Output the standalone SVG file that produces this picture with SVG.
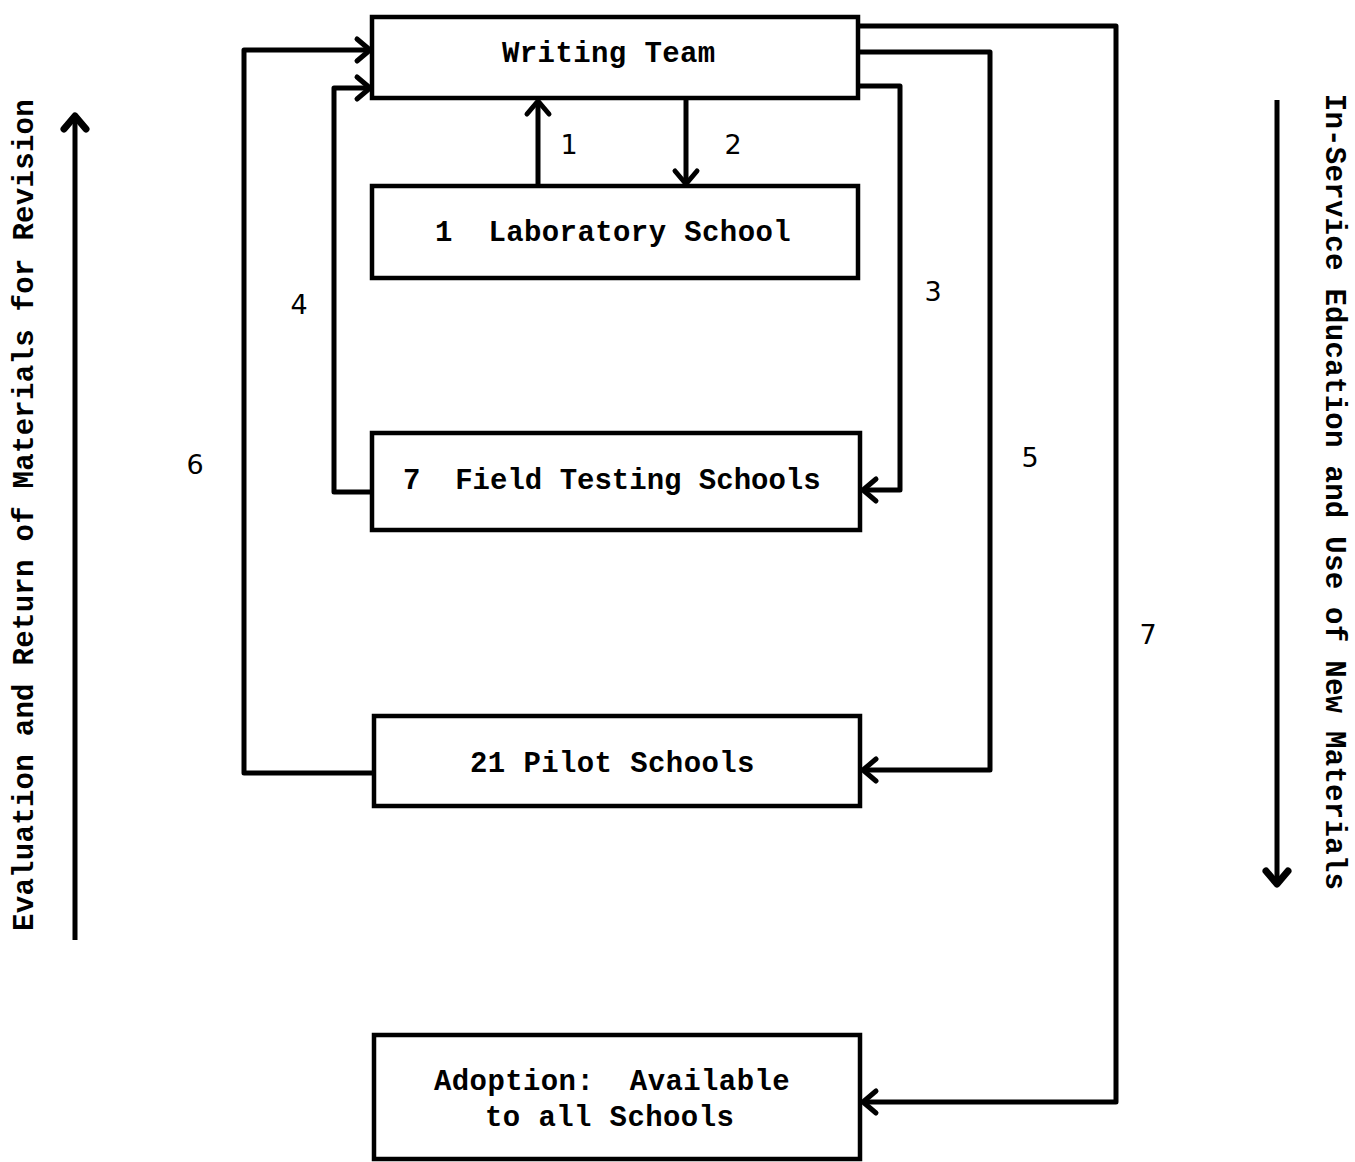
<svg xmlns="http://www.w3.org/2000/svg" width="1355" height="1162" viewBox="0 0 1355 1162">
<style>
.box{fill:#fff;stroke:#000;stroke-width:4.5}
.t{font-family:"Liberation Mono","Courier New",monospace;font-weight:bold;font-size:29px;letter-spacing:0.4px;fill:#000}
.v{letter-spacing:0.3px}
.tight{letter-spacing:0}
.n{font-family:"DejaVu Sans","Liberation Sans",sans-serif;font-size:27px;fill:#000}
.c{fill:none;stroke:#000;stroke-width:5;stroke-linejoin:round}
.big{fill:none;stroke:#000;stroke-width:5}
</style>
<defs>
<marker id="ah" markerUnits="userSpaceOnUse" markerWidth="24" markerHeight="28" viewBox="-18 -14 24 28" refX="0" refY="0" orient="auto" overflow="visible">
<path d="M-13,-11 L0,0 L-13,11" fill="none" stroke="#000" stroke-width="5" stroke-linecap="round" stroke-linejoin="round"/>
</marker>
<marker id="bh" markerUnits="userSpaceOnUse" markerWidth="30" markerHeight="30" viewBox="-20 -15 30 30" refX="0" refY="0" orient="auto" overflow="visible">
<path d="M-13,-11 L0,0 L-13,11" fill="none" stroke="#000" stroke-width="7" stroke-linecap="round" stroke-linejoin="round"/>
</marker>
</defs>
<g id="connectors">
<path class="c" d="M538,186 L538,101" marker-end="url(#ah)"/>
<path class="c" d="M686,98 L686,184" marker-end="url(#ah)"/>
<path class="c" d="M858,86 L900,86 L900,490 L863,490" marker-end="url(#ah)"/>
<path class="c" d="M372,492 L334,492 L334,88 L370,88" marker-end="url(#ah)"/>
<path class="c" d="M858,52 L990,52 L990,770 L863,770" marker-end="url(#ah)"/>
<path class="c" d="M374,773 L244,773 L244,50 L370,50" marker-end="url(#ah)"/>
<path class="c" d="M858,26 L1116,26 L1116,1102 L863,1102" marker-end="url(#ah)"/>
<path class="big" d="M75,940 L75,116" marker-end="url(#bh)"/>
<path class="big" d="M1277,100 L1277,884" marker-end="url(#bh)"/>
</g>
<g id="labels">
<text class="n" x="569" y="154" text-anchor="middle">1</text>
<text class="n" x="733" y="154" text-anchor="middle">2</text>
<text class="n" x="933" y="301" text-anchor="middle">3</text>
<text class="n" x="299" y="314" text-anchor="middle">4</text>
<text class="n" x="1030" y="467" text-anchor="middle">5</text>
<text class="n" x="195" y="474" text-anchor="middle">6</text>
<text class="n" x="1148" y="644" text-anchor="middle">7</text>
<text class="t v" text-anchor="middle" transform="translate(33,515) rotate(-90)">Evaluation and Return of Materials for Revision</text>
<text class="t v" text-anchor="middle" transform="translate(1326,492) rotate(90)">In-Service Education and Use of New Materials</text>
</g>
<g id="writing-team">
<rect class="box" x="372" y="17" width="486" height="81"/>
<text class="t" x="502" y="62">Writing Team</text>
</g>
<g id="laboratory-school">
<rect class="box" x="372" y="186" width="486" height="92"/>
<text class="t" x="435" y="241" xml:space="preserve">1  Laboratory School</text>
</g>
<g id="field-testing-schools">
<rect class="box" x="372" y="433" width="488" height="97"/>
<text class="t tight" x="403" y="489" xml:space="preserve">7  Field Testing Schools</text>
</g>
<g id="pilot-schools">
<rect class="box" x="374" y="716" width="486" height="90"/>
<text class="t" x="470" y="772">21 Pilot Schools</text>
</g>
<g id="adoption">
<rect class="box" x="374" y="1035" width="486" height="124"/>
<text class="t" x="434" y="1090" xml:space="preserve">Adoption:  Available</text>
<text class="t" x="485" y="1126">to all Schools</text>
</g>
</svg>
